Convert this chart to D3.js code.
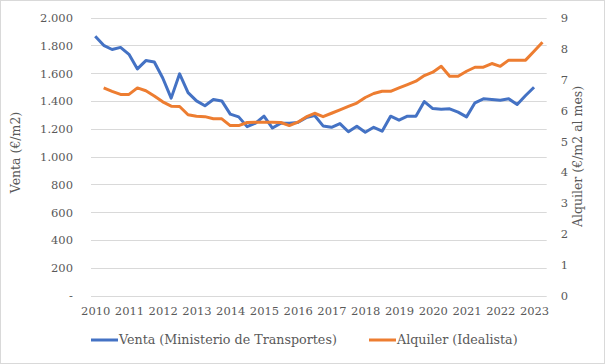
<!DOCTYPE html>
<html>
<head>
<meta charset="utf-8">
<script src="https://cdn.jsdelivr.net/npm/d3@7"></script>
<style>
  body { margin: 0; background: #fff; }
  svg text { font-family: "DejaVu Serif", serif; fill: #595959; }
</style>
</head>
<body>
<svg id="stage" width="605" height="364"></svg>
<script>
var svg = d3.select("#stage");

// data (quarterly, 2010 T1 .. 2023 T2)
var years = [2010, 2011, 2012, 2013, 2014, 2015, 2016, 2017, 2018, 2019, 2020, 2021, 2022, 2023];
var quarters = ["T1", "T2", "T3", "T4"];

// Venta (Ministerio de Transportes), €/m2, 2010T1 .. 2023T1
var venta = [1865, 1800, 1770, 1785, 1735, 1630, 1690, 1680, 1565, 1420, 1595, 1460, 1400, 1365,
  1410, 1400, 1305, 1285, 1215, 1240, 1290, 1205, 1240, 1240, 1245, 1280, 1295, 1220, 1210,
  1237, 1178, 1218, 1175, 1210, 1182, 1290, 1261, 1290, 1290, 1395, 1345, 1340, 1343, 1319,
  1285, 1386, 1415, 1410, 1405, 1415, 1374, 1439, 1498];

// Alquiler (Idealista), €/m2 al mes, 2010T2 .. 2023T2
var alquiler = [6.72, 6.61, 6.51, 6.51, 6.72, 6.63, 6.46, 6.27, 6.13, 6.12, 5.85, 5.80, 5.79,
  5.72, 5.72, 5.50, 5.50, 5.60, 5.61, 5.61, 5.61, 5.60, 5.50, 5.61, 5.78, 5.90, 5.79, 5.90,
  6.01, 6.12, 6.23, 6.41, 6.54, 6.61, 6.61, 6.72, 6.83, 6.94, 7.12, 7.23, 7.42, 7.10, 7.10,
  7.26, 7.39, 7.39, 7.51, 7.42, 7.62, 7.62, 7.62, 7.91, 8.20];

var leftTicks = [0, 200, 400, 600, 800, 1000, 1200, 1400, 1600, 1800, 2000];
var rightTicks = [0, 1, 2, 3, 4, 5, 6, 7, 8, 9];

var categories = [];
years.forEach(function(y){
  quarters.forEach(function(q){ categories.push(y + q); });
});
categories = categories.slice(0, 54);

var ventaData = venta.map(function(v, i){ return {cat: categories[i], value: v}; });
var alquilerData = alquiler.map(function(v, i){ return {cat: categories[i + 1], value: v}; });

////////////////////////////// SCALES

var plot = {left: 91, right: 546.7, top: 17.5, bottom: 295.5};

var x = d3.scalePoint()
  .domain(categories)
  .range([plot.left, plot.right])
  .padding(0.5);

var yLeft = d3.scaleLinear().domain([0, 2000]).range([plot.bottom, plot.top]);
var yRight = d3.scaleLinear().domain([0, 9]).range([plot.bottom, plot.top]);

var es = d3.formatLocale({decimal: ",", thousands: ".", grouping: [3], currency: ["", "€"]});
var fmtLeft = function(d){ return d === 0 ? "-" : es.format(",.0f")(d); };

////////////////////////////// FRAME

svg.append("rect")
  .attr("x", 0.5).attr("y", 0.5)
  .attr("width", 604).attr("height", 363)
  .attr("fill", "#fff")
  .attr("stroke", "#d9d9d9");

// gridlines
svg.append("g")
  .selectAll("line")
  .data(leftTicks)
  .enter().append("line")
    .attr("x1", plot.left).attr("x2", plot.right)
    .attr("y1", function(d){ return Math.round(yLeft(d)) + 0.5; })
    .attr("y2", function(d){ return Math.round(yLeft(d)) + 0.5; })
    .attr("stroke", "#d9d9d9")
    .attr("stroke-width", 1);

// left axis
var gLeft = svg.append("g")
  .attr("transform", "translate(" + (plot.left - 15) + ",0)")
  .call(d3.axisLeft(yLeft).tickValues(leftTicks).tickFormat(fmtLeft).tickSize(0));
gLeft.select(".domain").remove();
gLeft.selectAll("text").attr("font-size", 11.5).attr("dy", "0.35em");

// right axis
var gRight = svg.append("g")
  .attr("transform", "translate(" + (plot.right + 11) + ",0)")
  .call(d3.axisRight(yRight).tickValues(rightTicks).tickSize(0));
gRight.select(".domain").remove();
gRight.selectAll("text").attr("font-size", 11.5).attr("dy", "0.35em");

// bottom axis: one label per year, on the first quarter
var gBottom = svg.append("g")
  .attr("transform", "translate(0," + (plot.bottom + 8) + ")")
  .call(d3.axisBottom(x)
    .tickValues(years.map(function(y){ return y + "T1"; }))
    .tickFormat(function(d){ return d.slice(0, 4); })
    .tickSize(0));
gBottom.select(".domain").remove();
gBottom.selectAll("text").attr("font-size", 11.5);

// axis titles
svg.append("text")
  .attr("transform", "translate(20," + ((plot.top + plot.bottom) / 2 - 4) + ") rotate(-90)")
  .attr("text-anchor", "middle")
  .attr("font-size", 12.5)
  .text("Venta (€/m2)");

svg.append("text")
  .attr("transform", "translate(582," + ((plot.top + plot.bottom) / 2) + ") rotate(-90)")
  .attr("text-anchor", "middle")
  .attr("font-size", 12.5)
  .text("Alquiler (€/m2 al mes)");

////////////////////////////// LINES

var ventaLine = d3.line()
  .x(function(d){ return x(d.cat); })
  .y(function(d){ return yLeft(d.value); });

var alquilerLine = d3.line()
  .x(function(d){ return x(d.cat); })
  .y(function(d){ return yRight(d.value); });

svg.append("path")
  .datum(ventaData)
  .attr("d", ventaLine)
  .attr("fill", "none")
  .attr("stroke", "#4472c4")
  .attr("stroke-width", 3)
  .attr("stroke-linejoin", "round");

svg.append("path")
  .datum(alquilerData)
  .attr("d", alquilerLine)
  .attr("fill", "none")
  .attr("stroke", "#ed7d31")
  .attr("stroke-width", 3)
  .attr("stroke-linejoin", "round");

////////////////////////////// LEGEND

var legendItems = [
  {label: "Venta (Ministerio de Transportes)", color: "#4472c4", x: 91},
  {label: "Alquiler (Idealista)", color: "#ed7d31", x: 369}
];

var legend = svg.append("g").attr("transform", "translate(0,340)");
var items = legend.selectAll("g")
  .data(legendItems)
  .enter().append("g")
    .attr("transform", function(d){ return "translate(" + d.x + ",0)"; });

items.append("line")
  .attr("x1", 0).attr("x2", 27)
  .attr("stroke", function(d){ return d.color; })
  .attr("stroke-width", 3);

items.append("text")
  .attr("x", 28)
  .attr("dy", "0.35em")
  .attr("font-size", 12.7)
  .text(function(d){ return d.label; });
</script>
</body>
</html>
